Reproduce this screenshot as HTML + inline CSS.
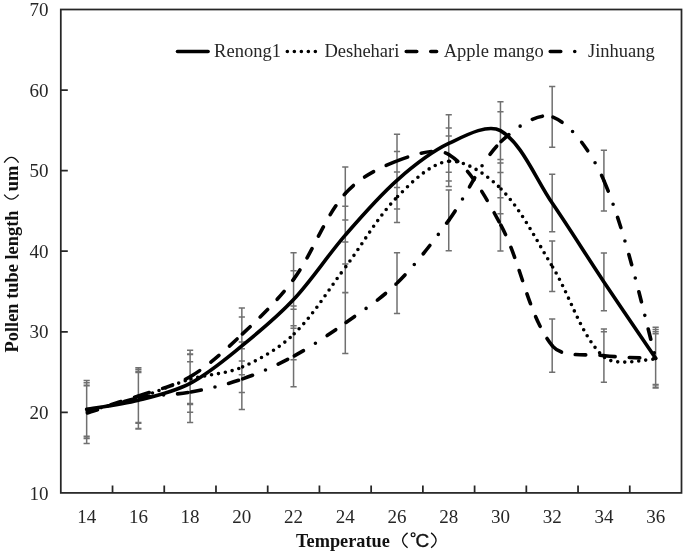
<!DOCTYPE html>
<html><head><meta charset="utf-8"><style>
html,body{margin:0;padding:0;background:#fff;}
svg{display:block;filter:blur(0.3px);}
</style></head><body>
<svg width="685" height="554" viewBox="0 0 685 554" font-family="Liberation Serif" fill="#111">
<rect width="685" height="554" fill="#fff"/>
<path d="M86.66 380.47V438.07M83.56 380.47h6.2M83.56 438.07h6.2M138.39 371.45V429.05M135.29 371.45h6.2M135.29 429.05h6.2M190.11 354.53V412.13M187.01 354.53h6.2M187.01 412.13h6.2M241.84 317.07V374.67M238.74 317.07h6.2M238.74 374.67h6.2M293.56 270.74V328.34M290.46 270.74h6.2M290.46 328.34h6.2M345.29 206.29V263.89M342.19 206.29h6.2M342.19 263.89h6.2M397.01 151.5V209.1M393.91 151.5h6.2M393.91 209.1h6.2M448.74 114.68V172.28M445.64 114.68h6.2M445.64 172.28h6.2M500.46 101.87V159.47M497.36 101.87h6.2M497.36 159.47h6.2M552.19 174.22V231.82M549.09 174.22h6.2M549.09 231.82h6.2M603.91 253.1V310.7M600.81 253.1h6.2M600.81 310.7h6.2M655.64 329.55V387.15M652.54 329.55h6.2M652.54 387.15h6.2M86.66 385.74V436.34M83.56 385.74h6.2M83.56 436.34h6.2M138.39 372.61V423.21M135.29 372.61h6.2M135.29 423.21h6.2M190.11 354V404.6M187.01 354h6.2M187.01 404.6h6.2M241.84 341.92V392.52M238.74 341.92h6.2M238.74 392.52h6.2M293.56 309.13V359.73M290.46 309.13h6.2M290.46 359.73h6.2M345.29 242.09V292.69M342.19 242.09h6.2M342.19 292.69h6.2M397.01 171.92V222.52M393.91 171.92h6.2M393.91 222.52h6.2M448.74 135.99V186.59M445.64 135.99h6.2M445.64 186.59h6.2M500.46 163.06V213.66M497.36 163.06h6.2M497.36 213.66h6.2M552.19 240.89V291.49M549.09 240.89h6.2M549.09 291.49h6.2M603.91 331.68V382.28M600.81 331.68h6.2M600.81 382.28h6.2M655.64 333.86V384.46M652.54 333.86h6.2M652.54 384.46h6.2M86.66 385.25V438.45M83.56 385.25h6.2M83.56 438.45h6.2M138.39 369.38V422.58M135.29 369.38h6.2M135.29 422.58h6.2M190.11 350.2V403.4M187.01 350.2h6.2M187.01 403.4h6.2M241.84 307.91V361.11M238.74 307.91h6.2M238.74 361.11h6.2M293.56 252.8V306M290.46 252.8h6.2M290.46 306h6.2M345.29 166.91V220.11M342.19 166.91h6.2M342.19 220.11h6.2M397.01 134.37V187.57M393.91 134.37h6.2M393.91 187.57h6.2M448.74 127.92V181.12M445.64 127.92h6.2M445.64 181.12h6.2M500.46 197.77V250.97M497.36 197.77h6.2M497.36 250.97h6.2M552.19 319.1V372.3M549.09 319.1h6.2M549.09 372.3h6.2M603.91 329.01V382.21M600.81 329.01h6.2M600.81 382.21h6.2M655.64 331.75V384.95M652.54 331.75h6.2M652.54 384.95h6.2M86.66 382.82V443.62M83.56 382.82h6.2M83.56 443.62h6.2M138.39 367.67V428.47M135.29 367.67h6.2M135.29 428.47h6.2M190.11 361.79V422.59M187.01 361.79h6.2M187.01 422.59h6.2M241.84 348.82V409.62M238.74 348.82h6.2M238.74 409.62h6.2M293.56 325.86V386.66M290.46 325.86h6.2M290.46 386.66h6.2M345.29 292.58V353.38M342.19 292.58h6.2M342.19 353.38h6.2M397.01 252.7V313.5M393.91 252.7h6.2M393.91 313.5h6.2M448.74 189.94V250.74M445.64 189.94h6.2M445.64 250.74h6.2M500.46 111.79V172.59M497.36 111.79h6.2M497.36 172.59h6.2M552.19 86.41V147.21M549.09 86.41h6.2M549.09 147.21h6.2M603.91 150.22V211.02M600.81 150.22h6.2M600.81 211.02h6.2M655.64 327.15V387.95M652.54 327.15h6.2M652.54 387.95h6.2" stroke="#707070" stroke-width="1.5" fill="none"/>
<path d="M86.66 409.27C95.28 407.77 121.45 404.49 138.39 400.25C155.94 395.85 174.25 391.67 190.11 383.33C208.73 373.54 225.32 359.25 241.84 345.87C259.8 331.32 277.82 316.4 293.56 299.54C312.3 279.47 327.25 255.88 345.29 235.09C361.73 216.13 378.3 196.87 397.01 180.3C412.78 166.34 429.99 152.48 448.74 143.48C464.47 135.93 487.54 123.24 500.46 130.67C522.03 143.08 535.45 178.56 552.19 203.02C569.94 228.97 586.48 255.73 603.91 281.9C620.97 307.51 647.02 345.61 655.64 358.35" fill="none" stroke="#000" stroke-width="3.6" stroke-linecap="round" stroke-linejoin="round"/><path d="M86.66 411.04C95.28 408.86 121.4 403.12 138.39 397.91" fill="none" stroke="#000" stroke-width="3.6" stroke-dasharray="0 7.0" stroke-dashoffset="-0.9" stroke-linecap="round"/><path d="M138.39 397.91C155.88 392.54 172.58 384.5 190.11 379.3" fill="none" stroke="#000" stroke-width="3.6" stroke-dasharray="0 7.0" stroke-dashoffset="-0.9" stroke-linecap="round"/><path d="M190.11 379.3C207.06 374.27 225.82 374.16 241.84 367.22" fill="none" stroke="#000" stroke-width="3.6" stroke-dasharray="0 7.0" stroke-dashoffset="-0.9" stroke-linecap="round"/><path d="M241.84 367.22C260.3 359.21 279.09 348.39 293.56 334.43" fill="none" stroke="#000" stroke-width="3.6" stroke-dasharray="0 7.0" stroke-dashoffset="-0.9" stroke-linecap="round"/><path d="M293.56 334.43C313.57 315.12 328.3 289.93 345.29 267.39" fill="none" stroke="#000" stroke-width="3.6" stroke-dasharray="0 7.0" stroke-dashoffset="-0.9" stroke-linecap="round"/><path d="M345.29 267.39C362.78 244.19 376.99 217.75 397.01 197.22" fill="none" stroke="#000" stroke-width="3.6" stroke-dasharray="0 7.0" stroke-dashoffset="-0.9" stroke-linecap="round"/><path d="M397.01 197.22C411.48 182.39 430.84 162.82 448.74 161.29" fill="none" stroke="#000" stroke-width="3.6" stroke-dasharray="0 7.0" stroke-dashoffset="-0.9" stroke-linecap="round"/><path d="M448.74 161.29C465.33 159.87 487.2 174.91 500.46 188.36" fill="none" stroke="#000" stroke-width="3.6" stroke-dasharray="0 7.0" stroke-dashoffset="-0.9" stroke-linecap="round"/><path d="M500.46 188.36C521.69 209.88 535.91 239.65 552.19 266.19" fill="none" stroke="#000" stroke-width="3.6" stroke-dasharray="0 7.0" stroke-dashoffset="-0.9" stroke-linecap="round"/><path d="M552.19 266.19C570.39 295.86 580.85 336.26 603.91 356.98" fill="none" stroke="#000" stroke-width="3.6" stroke-dasharray="0 7.0" stroke-dashoffset="-0.9" stroke-linecap="round"/><path d="M603.91 356.98C615.34 367.25 647.02 358.8 655.64 359.16" fill="none" stroke="#000" stroke-width="3.6" stroke-dasharray="0 7.0" stroke-dashoffset="-0.9" stroke-linecap="round"/><path d="M86.66 411.85C95.28 409.2 121.31 401.76 138.39 395.98" fill="none" stroke="#000" stroke-width="3.6" stroke-dasharray="10.5 14.0" stroke-dashoffset="-0.9" stroke-linecap="round"/><path d="M138.39 395.98C155.8 390.08 174.52 386.07 190.11 376.8" fill="none" stroke="#000" stroke-width="3.6" stroke-dasharray="10.5 14.0" stroke-dashoffset="-0.9" stroke-linecap="round"/><path d="M190.11 376.8C209 365.58 225.66 349.74 241.84 334.51" fill="none" stroke="#000" stroke-width="3.6" stroke-dasharray="10.5 14.0" stroke-dashoffset="-0.9" stroke-linecap="round"/><path d="M241.84 334.51C260.14 317.27 278.74 299.6 293.56 279.4" fill="none" stroke="#000" stroke-width="3.6" stroke-dasharray="10.5 14.0" stroke-dashoffset="-0.9" stroke-linecap="round"/><path d="M293.56 279.4C313.22 252.6 323.86 218.04 345.29 193.51" fill="none" stroke="#000" stroke-width="3.6" stroke-dasharray="10.5 14.0" stroke-dashoffset="-0.9" stroke-linecap="round"/><path d="M345.29 193.51C358.35 178.56 378.4 167.98 397.01 160.97" fill="none" stroke="#000" stroke-width="3.6" stroke-dasharray="10.5 14.0" stroke-dashoffset="-0.9" stroke-linecap="round"/><path d="M397.01 160.97C412.89 154.98 435.81 146.6 448.74 154.52" fill="none" stroke="#000" stroke-width="3.6" stroke-dasharray="10.5 14.0" stroke-dashoffset="-0.9" stroke-linecap="round"/><path d="M448.74 154.52C470.29 167.73 486.77 199.06 500.46 224.37" fill="none" stroke="#000" stroke-width="3.6" stroke-dasharray="10.5 14.0" stroke-dashoffset="-0.9" stroke-linecap="round"/><path d="M500.46 224.37C521.25 262.79 527.54 314.44 552.19 345.7" fill="none" stroke="#000" stroke-width="3.6" stroke-dasharray="10.5 14.0" stroke-dashoffset="-0.9" stroke-linecap="round"/><path d="M552.19 345.7C562.03 358.19 586.53 353.49 603.91 355.61" fill="none" stroke="#000" stroke-width="3.6" stroke-dasharray="10.5 14.0" stroke-dashoffset="-0.9" stroke-linecap="round"/><path d="M603.91 355.61C621.01 357.71 647.02 357.9 655.64 358.35" fill="none" stroke="#000" stroke-width="3.6" stroke-dasharray="10.5 14.0" stroke-dashoffset="-0.9" stroke-linecap="round"/><path d="M86.66 413.22C95.28 410.7 120.85 401.64 138.39 398.07" fill="none" stroke="#000" stroke-width="3.6" stroke-dasharray="10.5 14.0 0 14.0" stroke-dashoffset="-0.9" stroke-linecap="round"/><path d="M138.39 398.07C155.33 394.63 173.08 395.3 190.11 392.19" fill="none" stroke="#000" stroke-width="3.6" stroke-dasharray="10.5 14.0 0 14.0" stroke-dashoffset="-0.9" stroke-linecap="round"/><path d="M190.11 392.19C207.56 389.01 225.11 385.03 241.84 379.22" fill="none" stroke="#000" stroke-width="3.6" stroke-dasharray="10.5 14.0 0 14.0" stroke-dashoffset="-0.9" stroke-linecap="round"/><path d="M241.84 379.22C259.59 373.05 277.04 365.24 293.56 356.26" fill="none" stroke="#000" stroke-width="3.6" stroke-dasharray="10.5 14.0 0 14.0" stroke-dashoffset="-0.9" stroke-linecap="round"/><path d="M293.56 356.26C311.52 346.5 328.56 334.81 345.29 322.98" fill="none" stroke="#000" stroke-width="3.6" stroke-dasharray="10.5 14.0 0 14.0" stroke-dashoffset="-0.9" stroke-linecap="round"/><path d="M345.29 322.98C363.05 310.43 381.65 298.34 397.01 283.1" fill="none" stroke="#000" stroke-width="3.6" stroke-dasharray="10.5 14.0 0 14.0" stroke-dashoffset="-0.9" stroke-linecap="round"/><path d="M397.01 283.1C416.14 264.13 432.72 242.17 448.74 220.34" fill="none" stroke="#000" stroke-width="3.6" stroke-dasharray="10.5 14.0 0 14.0" stroke-dashoffset="-0.9" stroke-linecap="round"/><path d="M448.74 220.34C467.2 195.2 479.11 163.56 500.46 142.19" fill="none" stroke="#000" stroke-width="3.6" stroke-dasharray="10.5 14.0 0 14.0" stroke-dashoffset="-0.9" stroke-linecap="round"/><path d="M500.46 142.19C513.59 129.05 537.97 111.53 552.19 116.81" fill="none" stroke="#000" stroke-width="3.6" stroke-dasharray="10.5 14.0 0 14.0" stroke-dashoffset="-0.9" stroke-linecap="round"/><path d="M552.19 116.81C572.45 124.34 593.28 155.89 603.91 180.62" fill="none" stroke="#000" stroke-width="3.6" stroke-dasharray="10.5 14.0 0 14.0" stroke-dashoffset="-0.9" stroke-linecap="round"/><path d="M603.91 180.62C627.77 236.13 647.02 328.06 655.64 357.55" fill="none" stroke="#000" stroke-width="3.6" stroke-dasharray="10.5 14.0 0 14.0" stroke-dashoffset="-0.9" stroke-linecap="round"/>
<rect x="60.8" y="9.5" width="620.7" height="483.4" fill="none" stroke="#262626" stroke-width="1.75"/><path d="M60.8 412.33H67.8M60.8 331.77H67.8M60.8 251.2H67.8M60.8 170.63H67.8M60.8 90.07H67.8M112.53 492.9V485.4M164.25 492.9V485.4M215.98 492.9V485.4M267.7 492.9V485.4M319.43 492.9V485.4M371.15 492.9V485.4M422.88 492.9V485.4M474.6 492.9V485.4M526.33 492.9V485.4M578.05 492.9V485.4M629.77 492.9V485.4" stroke="#262626" stroke-width="1.75" fill="none"/>
<g font-size="19" fill="#262626"><text x="48.6" y="499.5" text-anchor="end">10</text><text x="48.6" y="418.93" text-anchor="end">20</text><text x="48.6" y="338.37" text-anchor="end">30</text><text x="48.6" y="257.8" text-anchor="end">40</text><text x="48.6" y="177.23" text-anchor="end">50</text><text x="48.6" y="96.67" text-anchor="end">60</text><text x="48.6" y="16.1" text-anchor="end">70</text><text x="86.66" y="522.6" text-anchor="middle">14</text><text x="138.39" y="522.6" text-anchor="middle">16</text><text x="190.11" y="522.6" text-anchor="middle">18</text><text x="241.84" y="522.6" text-anchor="middle">20</text><text x="293.56" y="522.6" text-anchor="middle">22</text><text x="345.29" y="522.6" text-anchor="middle">24</text><text x="397.01" y="522.6" text-anchor="middle">26</text><text x="448.74" y="522.6" text-anchor="middle">28</text><text x="500.46" y="522.6" text-anchor="middle">30</text><text x="552.19" y="522.6" text-anchor="middle">32</text><text x="603.91" y="522.6" text-anchor="middle">34</text><text x="655.64" y="522.6" text-anchor="middle">36</text></g>

<path d="M177.5 51.5H208.1" stroke="#000" stroke-width="3.6" stroke-linecap="round"/><path d="M287.35 51.5H316" stroke="#000" stroke-width="3.6" stroke-dasharray="0 7.0" stroke-linecap="round"/><path d="M406.25 51.5H436.6" stroke="#000" stroke-width="3.6" stroke-dasharray="10.5 14.0" stroke-linecap="round"/><path d="M550.25 51.5H583" stroke="#000" stroke-width="3.6" stroke-dasharray="10.5 14.0 0 14.0" stroke-linecap="round"/>
<g font-size="18.5" fill="#262626"><text x="214.1" y="56.6">Renong1</text><text x="324.4" y="56.6">Deshehari</text><text x="443.7" y="56.6">Apple mango</text><text x="588" y="56.6">Jinhuang</text></g>
<text x="296.1" y="546.8" font-weight="bold" font-size="18.3">Temperatue</text>
<path d="M407.6 532.9Q397.7 540.3 407.6 547.7M431.1 532.9Q441 540.3 431.1 547.7" stroke="#111" stroke-width="1.35" fill="none"/>
<circle cx="413.1" cy="534.8" r="1.9" stroke="#111" stroke-width="1.2" fill="none"/>
<text x="415.6" y="547.3" font-family="Liberation Sans" font-size="19" fill="#111" stroke="#111" stroke-width="0.35">C</text>
<g transform="translate(18.3 352.5) rotate(-90)"><text x="0" y="0" font-weight="bold" font-size="18.4">Pollen tube length</text></g>
<g transform="translate(18.3 191.2) rotate(-90)"><text x="0" y="0" font-weight="bold" font-size="18.4">um</text></g>
<path d="M4.2 194.6Q11.4 203.7 18.6 194.6M4.2 162.6Q11.4 152.2 18.6 162.6" stroke="#111" stroke-width="1.35" fill="none"/>
</svg>
</body></html>
